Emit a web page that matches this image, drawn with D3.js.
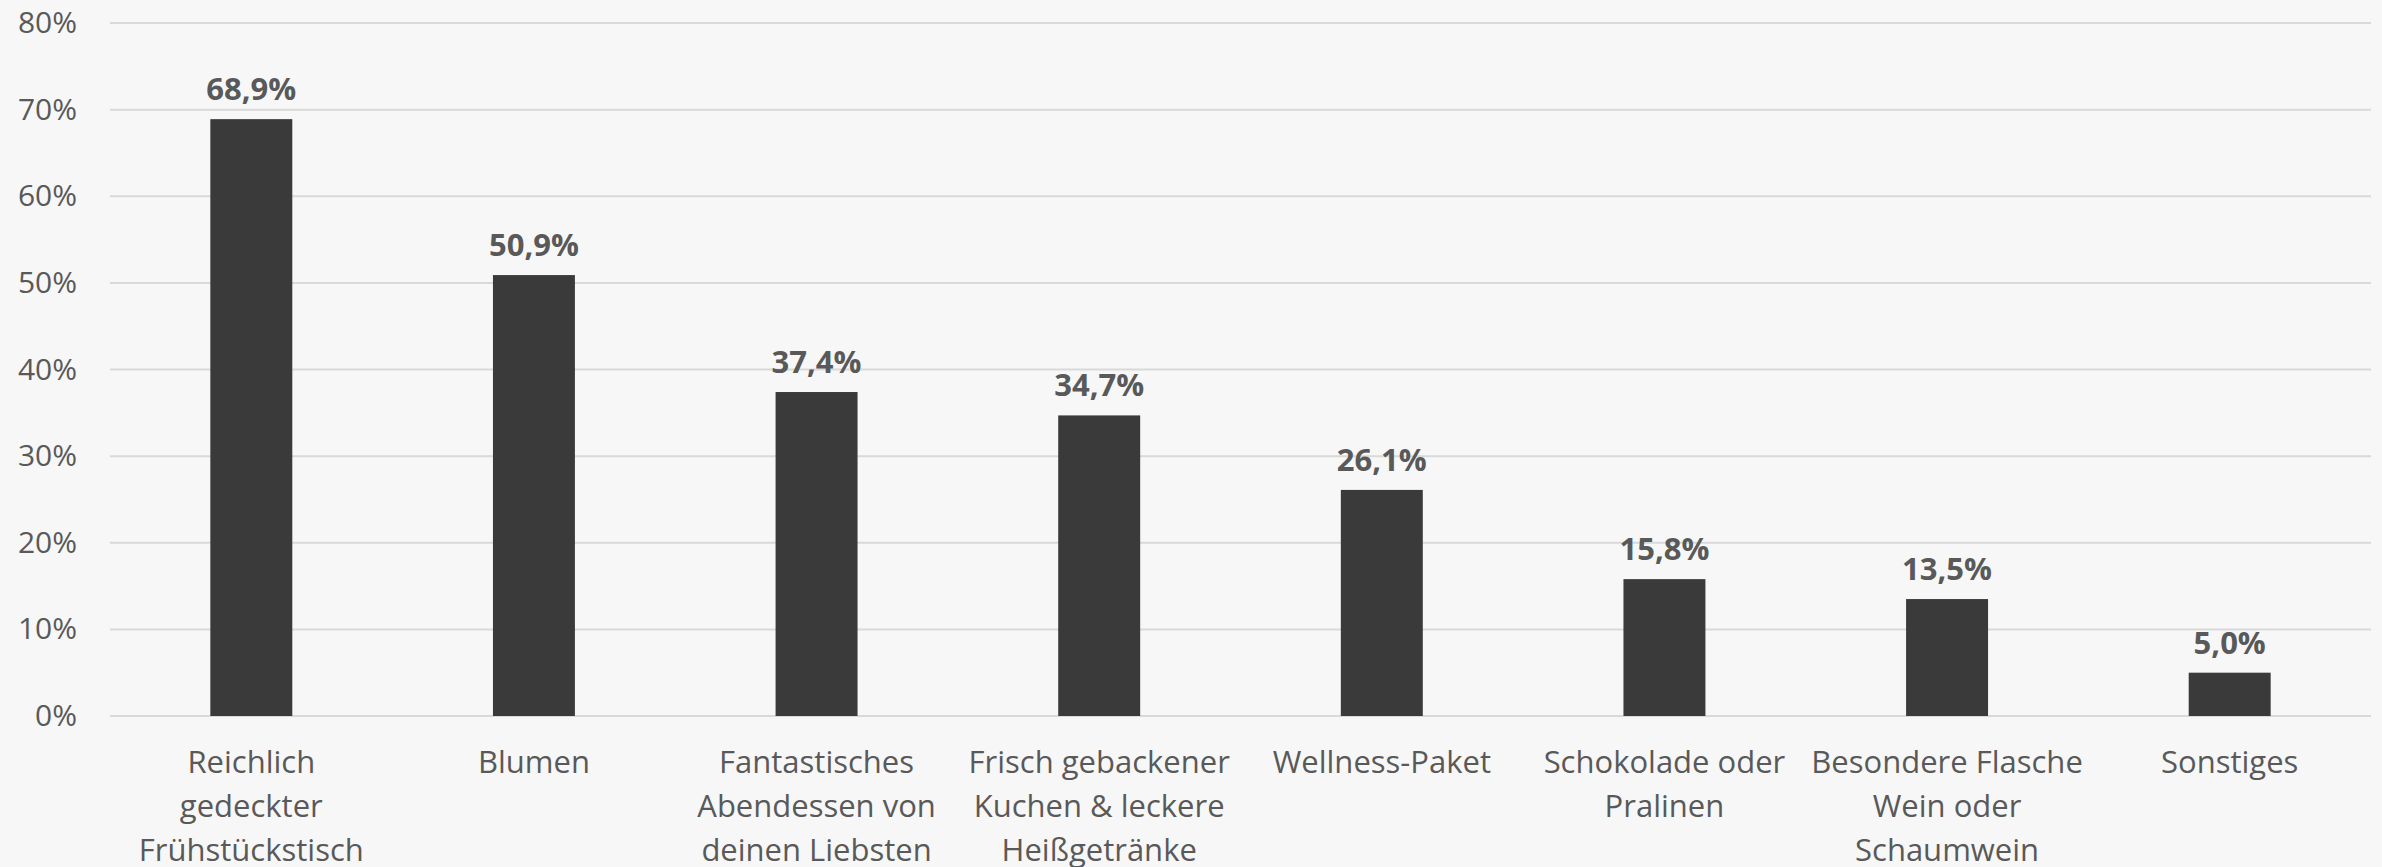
<!DOCTYPE html>
<html>
<head>
<meta charset="utf-8">
<script src="https://cdn.jsdelivr.net/npm/d3@7"></script>
<style>
  body { margin: 0; background: #f7f7f7; }
  svg { display: block; font-family: "Open Sans", sans-serif; }
</style>
</head>
<body>
<div class="render"></div>
<script>
// categories (line breaks as in the original chart)
var categories = [
    "Reichlich\ngedeckter\nFrühstückstisch",
    "Blumen",
    "Fantastisches\nAbendessen von\ndeinen Liebsten",
    "Frisch gebackener\nKuchen & leckere\nHeißgetränke",
    "Wellness-Paket",
    "Schokolade oder\nPralinen",
    "Besondere Flasche\nWein oder\nSchaumwein",
    "Sonstiges"
];
var values = [68.9, 50.9, 37.4, 34.7, 26.1, 15.8, 13.5, 5.0];
var yTicks = [0, 10, 20, 30, 40, 50, 60, 70, 80];

var width = 2382, height = 867;
var margin = { top: 23, right: 11, bottom: 151, left: 110 };

var svg = d3.select(".render").append("svg")
    .attr("width", width).attr("height", height);

svg.append("rect").attr("width", width).attr("height", height).attr("fill", "#f7f7f7");

var g = svg.append("g")
    .attr("transform", "translate(" + margin.left + "," + margin.top + ")");

var w = width - margin.left - margin.right,
    h = height - margin.top - margin.bottom;

var x = d3.scaleBand().domain(categories).range([0, w]).paddingInner(0.71).paddingOuter(0.355);
var y = d3.scaleLinear().domain([0, 80]).range([h, 0]);

// gridlines
g.selectAll("line.grid")
    .data(yTicks)
    .enter().append("line")
    .attr("class", "grid")
    .attr("x1", 0).attr("x2", w)
    .attr("y1", function(d) { return y(d); })
    .attr("y2", function(d) { return y(d); })
    .attr("stroke", "#d9d9d9")
    .attr("stroke-width", 2);

// y axis labels
var yAxis = g.append("g")
    .call(d3.axisLeft(y).tickValues(yTicks).tickSize(0).tickPadding(33)
        .tickFormat(function(d) { return d + "%"; }));
yAxis.select(".domain").remove();
yAxis.selectAll("text")
    .attr("font-family", "Open Sans")
    .attr("font-size", 30)
    .attr("fill", "#595959");

// bars
g.selectAll("rect.bar")
    .data(values)
    .enter().append("rect")
    .attr("class", "bar")
    .attr("x", function(d, i) { return x(categories[i]); })
    .attr("width", x.bandwidth())
    .attr("y", function(d) { return y(d); })
    .attr("height", function(d) { return h - y(d); })
    .attr("fill", "#3a3a3a");

// value labels
g.selectAll("text.val")
    .data(values)
    .enter().append("text")
    .attr("class", "val")
    .attr("x", function(d, i) { return x(categories[i]) + x.bandwidth() / 2; })
    .attr("y", function(d) { return y(d) - 19; })
    .attr("text-anchor", "middle")
    .attr("font-size", 31)
    .attr("font-weight", "bold")
    .attr("fill", "#595959")
    .text(function(d) { return d.toFixed(1).replace(".", ",") + "%"; });

// category labels
var cat = g.selectAll("text.cat")
    .data(categories)
    .enter().append("text")
    .attr("class", "cat")
    .attr("x", function(d) { return x(d) + x.bandwidth() / 2; })
    .attr("y", h + 57)
    .attr("text-anchor", "middle")
    .attr("font-size", 31)
    .attr("fill", "#595959");

cat.selectAll("tspan")
    .data(function(d) { return d.split("\n"); })
    .enter().append("tspan")
    .attr("x", function() { return d3.select(this.parentNode).attr("x"); })
    .attr("dy", function(d, i) { return i ? 44 : 0; })
    .text(function(d) { return d; });
</script>
</body>
</html>
